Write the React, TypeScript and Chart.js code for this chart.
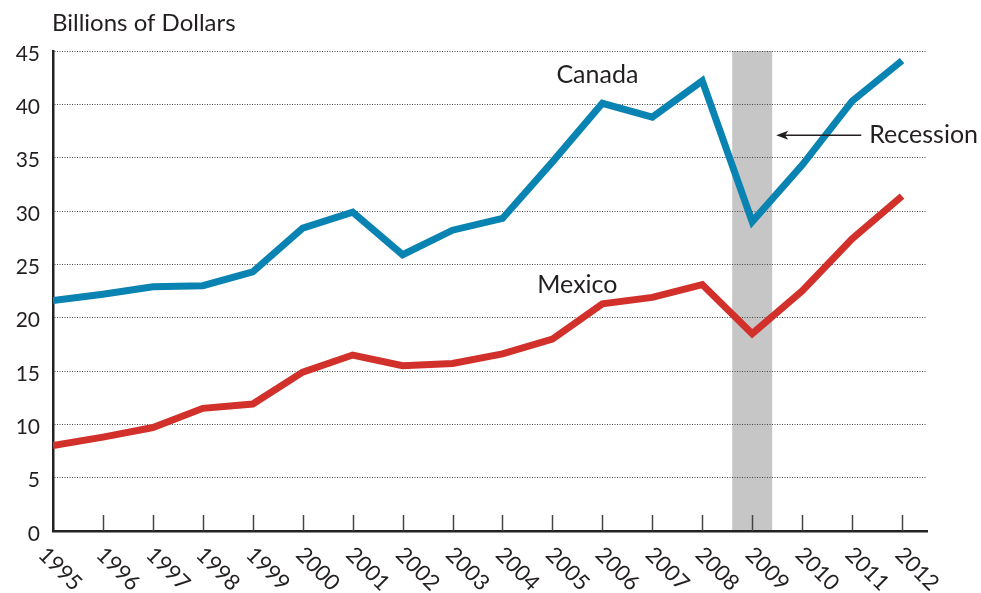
import React, { useEffect, useRef } from "react";
import { Chart, registerables } from "chart.js";

Chart.register(...registerables);

const years = [1995, 1996, 1997, 1998, 1999, 2000, 2001, 2002, 2003, 2004, 2005, 2006, 2007, 2008, 2009, 2010, 2011, 2012];
const canada = [21.6, 22.2, 22.9, 23.0, 24.3, 28.4, 29.9, 25.9, 28.2, 29.3, 34.6, 40.1, 38.8, 42.2, 29.0, 34.3, 40.3, 44.1];
const mexico = [8.0, 8.8, 9.7, 11.5, 11.9, 14.9, 16.5, 15.5, 15.7, 16.6, 18.0, 21.3, 21.9, 23.1, 18.5, 22.5, 27.4, 31.4];
const yTicks = [0, 5, 10, 15, 20, 25, 30, 35, 40, 45];
const recession = [2008.6, 2009.4];
const yTitle = "Billions of Dollars";
const labels = [
  { text: "Canada", x: 2005.9, y: 42.8 },
  { text: "Mexico", x: 2005.5, y: 23.1 },
];
const recessionLabel = { text: "Recession", x: 2012.4, y: 37.1 };

const FONT = "Lato, 'Noto Sans', sans-serif";

const decorPlugin = {
  id: "decor",
  beforeDraw(chart: any) {
    const { ctx, chartArea, scales } = chart;
    const xs = scales.x;
    ctx.save();
    ctx.fillStyle = "#c6c6c6";
    const x0 = xs.getPixelForValue(recession[0]);
    const x1 = xs.getPixelForValue(recession[1]);
    ctx.fillRect(x0, chartArea.top, x1 - x0, chartArea.bottom - chartArea.top);
    ctx.restore();
  },
  afterDatasetsDraw(chart: any) {
    const { ctx, chartArea, scales } = chart;
    const xs = scales.x;
    const ys = scales.y;
    ctx.save();
    // x ticks (upward)
    ctx.strokeStyle = "#444";
    ctx.lineWidth = 1.5;
    years.slice(1).forEach((yr) => {
      const px = Math.round(xs.getPixelForValue(yr)) + 0.5;
      ctx.beginPath();
      ctx.moveTo(px, chartArea.bottom);
      ctx.lineTo(px, chartArea.bottom - 16);
      ctx.stroke();
    });
    // y tick labels
    ctx.fillStyle = "#231f20";
    ctx.font = `21px ${FONT}`;
    ctx.textAlign = "right";
    ctx.textBaseline = "middle";
    yTicks.forEach((v) => {
      ctx.fillText(String(v), chartArea.left - 13, ys.getPixelForValue(v) + 3);
    });
    // x tick labels rotated
    ctx.font = `22px ${FONT}`;
    ctx.textAlign = "left";
    ctx.textBaseline = "middle";
    years.forEach((yr, i) => {
      const px = xs.getPixelForValue(yr);
      ctx.save();
      ctx.translate(px - 3 - (i === 0 ? 8 : 0), chartArea.bottom + 20);
      ctx.rotate(Math.PI / 4);
      ctx.fillText(String(yr), 0, 0);
      ctx.restore();
    });
    // title
    ctx.font = `24px ${FONT}`;
    ctx.textAlign = "left";
    ctx.textBaseline = "alphabetic";
    ctx.fillText(yTitle, chartArea.left - 1, 31);
    // series labels
    ctx.font = `25px ${FONT}`;
    ctx.textAlign = "center";
    ctx.textBaseline = "middle";
    labels.forEach((l) => {
      ctx.fillText(l.text, xs.getPixelForValue(l.x), ys.getPixelForValue(l.y));
    });
    // recession label and arrow
    const ry = ys.getPixelForValue(recessionLabel.y);
    const right = xs.getPixelForValue(recessionLabel.x) + 56;
    ctx.textAlign = "right";
    ctx.fillText(recessionLabel.text, right, ry);
    const textLeft = right - ctx.measureText(recessionLabel.text).width;
    const tip = xs.getPixelForValue(recession[1]) + 4;
    const tail = textLeft - 8;
    ctx.strokeStyle = "#231f20";
    ctx.lineWidth = 1.3;
    ctx.beginPath();
    ctx.moveTo(tip + 4, ry);
    ctx.lineTo(tail, ry);
    ctx.stroke();
    ctx.fillStyle = "#231f20";
    ctx.beginPath();
    ctx.moveTo(tip, ry);
    ctx.lineTo(tip + 12, ry - 4.5);
    ctx.lineTo(tip + 9, ry);
    ctx.lineTo(tip + 12, ry + 4.5);
    ctx.closePath();
    ctx.fill();
    ctx.restore();
  },
};

export default function App() {
  const ref = useRef<HTMLCanvasElement>(null);
  useEffect(() => {
    document.body.style.margin = "0";
    const chart = new Chart(ref.current!, {
      type: "line",
      data: {
        datasets: [
          {
            label: "Canada",
            data: years.map((y, i) => ({ x: y, y: canada[i] })),
            borderColor: "#0883b2",
            borderWidth: 7,
            pointRadius: 0,
            borderJoinStyle: "miter",
            tension: 0,
          },
          {
            label: "Mexico",
            data: years.map((y, i) => ({ x: y, y: mexico[i] })),
            borderColor: "#d2302b",
            borderWidth: 7,
            pointRadius: 0,
            borderJoinStyle: "miter",
            tension: 0,
          },
        ],
      },
      options: {
        animation: false,
        responsive: false,
        layout: { padding: { left: 53, top: 51, right: 54, bottom: 62 } },
        plugins: { legend: { display: false }, tooltip: { enabled: false }, title: { display: false } },
        scales: {
          x: {
            type: "linear",
            min: 1995,
            max: 2012.5,
            afterBuildTicks: (s: any) => {
              s.ticks = years.map((v) => ({ value: v }));
            },
            afterFit: (s: any) => {
              s.height = 0;
            },
            ticks: { display: false },
            grid: { display: false, drawTicks: false },
            border: { display: true, color: "#222", width: 2.5 },
          },
          y: {
            min: 0,
            max: 45,
            afterBuildTicks: (s: any) => {
              s.ticks = yTicks.map((v) => ({ value: v }));
            },
            afterFit: (s: any) => {
              s.width = 0;
            },
            ticks: { display: false },
            grid: { color: "#444", lineWidth: 1, drawTicks: false },
            border: { display: true, color: "#222", width: 2.5, dash: [1, 1.5] as any },
          },
        },
      } as any,
      plugins: [decorPlugin],
    });
    return () => chart.destroy();
  }, []);
  return (
    <div style={{ width: 981, height: 593 }}>
      <canvas ref={ref} width={981} height={593} />
    </div>
  );
}
